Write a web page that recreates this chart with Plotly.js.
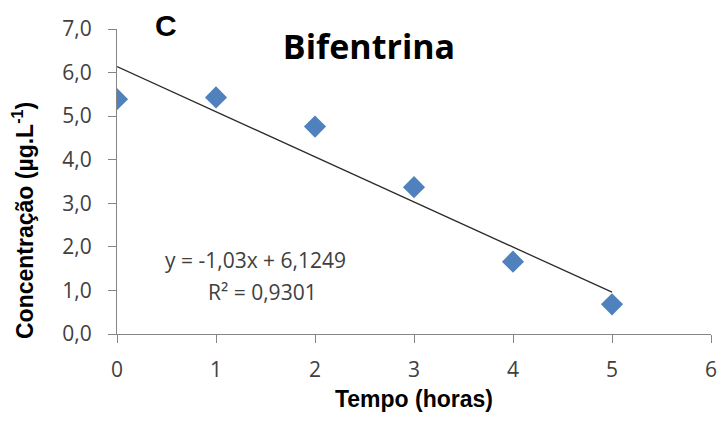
<!DOCTYPE html>
<html>
<head>
<meta charset="utf-8">
<script src="https://cdn.plot.ly/plotly-3.0.1.min.js"></script>
<style>
html,body{margin:0;padding:0;background:#fff;}
#chart{width:720px;height:424px;}
</style>
</head>
<body>
<div id="chart"></div>
<script>
// Data
var tempoHoras = [0, 1, 2, 3, 4, 5];
var concentracao = [5.39, 5.43, 4.76, 3.37, 1.66, 0.68];
var xTicks = [0, 1, 2, 3, 4, 5, 6];
var yTicks = [0, 1, 2, 3, 4, 5, 6, 7];
var equationText = "y = -1,03x + 6,1249";
var r2Text = "R² = 0,9301";
var chartTitle = "Bifentrina";
var panelLabel = "C";
var xTitle = "Tempo (horas)";
var yTitle = "Concentração (µg.L<sup>-1</sup>)";

// Linear least-squares trend line computed from the data
var n = tempoHoras.length;
var mx = tempoHoras.reduce(function(a,b){return a+b;},0)/n;
var my = concentracao.reduce(function(a,b){return a+b;},0)/n;
var sxy = 0, sxx = 0;
for (var i = 0; i < n; i++) {
  sxy += (tempoHoras[i]-mx)*(concentracao[i]-my);
  sxx += (tempoHoras[i]-mx)*(tempoHoras[i]-mx);
}
var slope = sxy/sxx;
var intercept = my - slope*mx;
var trendX = [tempoHoras[0], tempoHoras[n-1]];
var trendY = trendX.map(function(x){return intercept + slope*x;});

var traces = [
  {
    x: trendX, y: trendY, type: 'scatter', mode: 'lines',
    line: {color: '#2b2b2b', width: 1.3}, hoverinfo: 'skip', showlegend: false
  },
  {
    x: tempoHoras, y: concentracao, type: 'scatter', mode: 'markers',
    marker: {symbol: 'diamond', size: 17, color: '#4F81BD', line: {width: 0}},
    showlegend: false
  }
];

var tickFont = {family: '"Open Sans", Lato, sans-serif', size: 21, color: '#404040'};
var axisColor = '#868686';

var layout = {
  width: 720, height: 424,
  margin: {l: 117, r: 9, t: 29, b: 90, pad: 0},
  paper_bgcolor: '#ffffff', plot_bgcolor: '#ffffff',
  separators: ',.',
  showlegend: false,
  title: {
    text: chartTitle,
    font: {family: '"Open Sans", sans-serif', size: 34, color: '#000000', weight: 700},
    xref: 'container', yref: 'container',
    x: 369/720, xanchor: 'center',
    y: 1 - 47/424, yanchor: 'middle'
  },
  xaxis: {
    range: [0, 6], tickvals: xTicks, ticktext: xTicks.map(String),
    showgrid: false, zeroline: false,
    showline: true, linecolor: axisColor, linewidth: 1,
    ticks: 'outside', ticklen: 8, tickcolor: axisColor, tickwidth: 1,
    tickfont: tickFont, ticklabelstandoff: 9,
    title: {text: xTitle, font: {family: '"Liberation Sans", Arial, sans-serif', size: 23, color: '#000000', weight: 700}, standoff: 8}
  },
  yaxis: {
    range: [0, 7], tickvals: yTicks, tickformat: '.1f',
    showgrid: false, zeroline: false,
    showline: true, linecolor: axisColor, linewidth: 1,
    ticks: 'outside', ticklen: 8, tickcolor: axisColor, tickwidth: 1,
    tickfont: tickFont, ticklabelstandoff: 12
  },
  annotations: [
    {
      text: yTitle, textangle: -90,
      xref: 'paper', yref: 'paper',
      x: -(117-23)/594, y: (334-221)/305,
      xanchor: 'center', yanchor: 'middle', showarrow: false,
      font: {family: '"Liberation Sans", Arial, sans-serif', size: 23, color: '#000000', weight: 700}
    },
    {
      text: panelLabel, xref: 'paper', yref: 'paper',
      x: (166-117)/594, y: (334-26)/305,
      xanchor: 'center', yanchor: 'middle', showarrow: false,
      font: {family: '"Liberation Sans", Arial, sans-serif', size: 30, color: '#000000', weight: 700}
    },
    {
      text: equationText, xref: 'paper', yref: 'paper',
      x: (255-117)/594, y: (334-260)/305,
      xanchor: 'center', yanchor: 'middle', showarrow: false,
      font: tickFont
    },
    {
      text: r2Text, xref: 'paper', yref: 'paper',
      x: (262-117)/594, y: (334-292)/305,
      xanchor: 'center', yanchor: 'middle', showarrow: false,
      font: tickFont
    }
  ]
};

Plotly.newPlot('chart', traces, layout, {displayModeBar: false, staticPlot: true});
</script>
</body>
</html>
